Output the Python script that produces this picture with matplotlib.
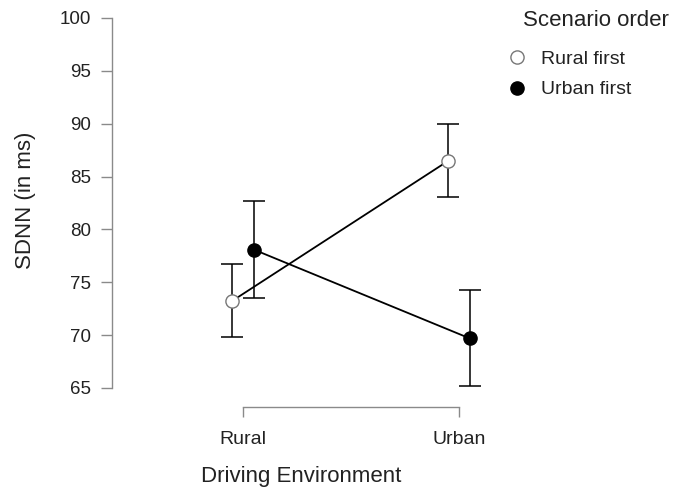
import numpy as np
import matplotlib.pyplot as plt
from matplotlib.lines import Line2D

plt.rcParams['font.family'] = ['Liberation Sans', 'DejaVu Sans']

environments = ["Rural", "Urban"]
groups = ["Rural first", "Urban first"]
means = {
    "Rural first": [73.25, 86.5],
    "Urban first": [78.1, 69.7],
}
lower = {
    "Rural first": [69.85, 83.05],
    "Urban first": [73.55, 65.2],
}
upper = {
    "Rural first": [76.75, 90.0],
    "Urban first": [82.7, 74.3],
}
yticks = [65, 70, 75, 80, 85, 90, 95, 100]

fig = plt.figure(figsize=(6.81, 4.92), dpi=100)
ax = fig.add_axes([112 / 681, 1 - 407 / 492, (490 - 112) / 681, (407 - 18) / 492])

x = np.arange(len(environments))
dodge = {"Rural first": -0.049, "Urban first": 0.049}
face = {"Rural first": "white", "Urban first": "black"}
edge = {"Rural first": "#777777", "Urban first": "black"}

handles = []
for g in groups:
    m = np.array(means[g])
    err = np.array([m - np.array(lower[g]), np.array(upper[g]) - m])
    xs = x + dodge[g]
    ax.errorbar(xs, m, yerr=err, fmt="none", ecolor="black", elinewidth=1.1,
                capsize=7.8, capthick=1.1, zorder=2)
    ax.plot(xs, m, color="black", lw=1.3, zorder=3)
    ax.plot(xs, m, "o", ms=9.5, mfc=face[g], mec=edge[g], mew=1.0, zorder=4,
            linestyle="none")
    handles.append(Line2D([], [], marker="o", ms=9.5, mfc=face[g], mec=edge[g],
                          mew=1.0, linestyle="none", label=g))

ax.set_xlim(-131 / 216, (490 - 243) / 216)
ax.set_ylim(65 - 19 / 10.57, 100)
ax.set_xticks(x)
ax.set_xticklabels(environments)
ax.set_yticks(yticks)

for s in ["top", "right"]:
    ax.spines[s].set_visible(False)
ax.spines["left"].set_bounds(65, 100)
ax.spines["bottom"].set_bounds(0, 1)
for s in ["left", "bottom"]:
    ax.spines[s].set_color("#8a8a8a")
    ax.spines[s].set_linewidth(1.0)

ax.tick_params(axis="y", length=8, width=1.0, color="#8a8a8a", labelsize=13.5, pad=7,
               labelcolor="#222222")
ax.tick_params(axis="x", length=7, width=1.0, color="#8a8a8a", labelsize=14, pad=10,
               labelcolor="#222222")

ax.set_ylabel("SDNN (in ms)", fontsize=16, color="#222222")
ax.yaxis.set_label_coords((36 - 112) / 378, (407 - 200) / 389)
ax.set_xlabel("Driving Environment", fontsize=16, labelpad=13, color="#222222")

fig.text(523 / 681, 1 - 21 / 492, "Scenario order", fontsize=16, color="#222222",
         ha="left", va="center")
leg = fig.legend(handles=handles, loc="upper left", bbox_to_anchor=(490 / 681, 1 - 33 / 492),
                 frameon=False, fontsize=14, handletextpad=0.7, labelspacing=0.65,
                 handlelength=1.0)
for t in leg.get_texts():
    t.set_color("#222222")

fig.savefig("out.png", dpi=100)
